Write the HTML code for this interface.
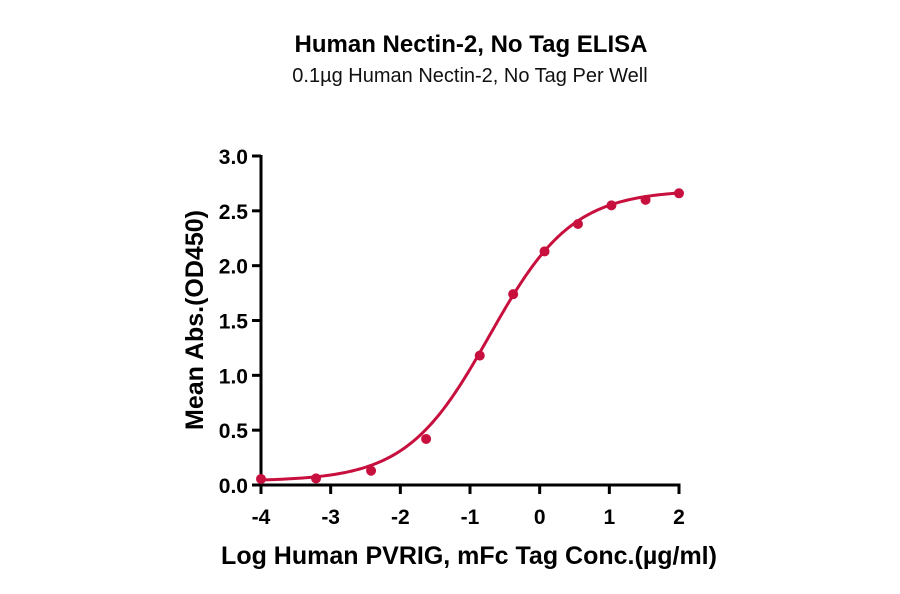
<!DOCTYPE html>
<html><head><meta charset="utf-8"><style>
html,body{margin:0;padding:0;background:#fff;}
svg{display:block;font-family:"Liberation Sans","DejaVu Sans",sans-serif;}
</style></head><body>
<svg id="chart" width="900" height="594" viewBox="0 0 900 594">
<text x="471" y="52" text-anchor="middle" font-size="24" font-weight="bold" fill="#000">Human Nectin-2, No Tag ELISA</text>
<text x="470" y="82" text-anchor="middle" font-size="20" fill="#111">0.1µg Human Nectin-2, No Tag Per Well</text>
<g id="axes"></g>
<g id="marks"></g>
<text x="469" y="564" text-anchor="middle" font-size="25" font-weight="bold" fill="#000">Log Human PVRIG, mFc Tag Conc.(µg/ml)</text>
<text transform="translate(203,320) rotate(-90)" text-anchor="middle" font-size="25" font-weight="bold" fill="#000">Mean Abs.(OD450)</text>
</svg>
<script>
const xValues=[-4,-3.21,-2.42,-1.63,-0.86,-0.38,0.07,0.55,1.03,1.52,2.0];
const yValues=[0.055,0.06,0.13,0.42,1.18,1.74,2.13,2.38,2.55,2.60,2.66];
const xTicks=[-4,-3,-2,-1,0,1,2];
const yTicks=[0,0.5,1.0,1.5,2.0,2.5,3.0];
const fitBottom=0.035, fitTop=2.69, fitLogEC50=-0.72, fitHill=0.73;

const X0=261,X1=679,Y0=485,Y1=156;
const xs=v=>X0+(v-(-4))/6*(X1-X0);
const ys=v=>Y0-v/3*(Y0-Y1);
const NS="http://www.w3.org/2000/svg";
const axes=document.getElementById('axes'), marks=document.getElementById('marks');
function mk(tag,attrs,parent){const e=document.createElementNS(NS,tag);for(const k in attrs)e.setAttribute(k,attrs[k]);parent.appendChild(e);return e;}

let e=mk('line',{x1:X0,y1:Y1-1,x2:X0,y2:Y0+1.5,stroke:'#000','stroke-width':3},axes);


e=mk('line',{x1:X0-1.5,y1:Y0,x2:X1+1.5,y2:Y0,stroke:'#000','stroke-width':3},axes);


xTicks.forEach(t=>{
  let l=mk('line',{x1:xs(t),y1:Y0,x2:xs(t),y2:Y0+9,stroke:'#000','stroke-width':3},axes);
  
  
  let tx=mk('text',{x:xs(t),y:Y0+39,'text-anchor':'middle','font-size':21,'font-weight':'bold',fill:'#000'},axes);
  tx.textContent=String(t);
  
  
});
yTicks.forEach(t=>{
  let l=mk('line',{x1:X0-9,y1:ys(t),x2:X0,y2:ys(t),stroke:'#000','stroke-width':3},axes);
  
  
  let tx=mk('text',{x:X0-13,y:ys(t)+8,'text-anchor':'end','font-size':21,'font-weight':'bold',fill:'#000'},axes);
  tx.textContent=t.toFixed(1);
  
  
});
let d='';
for(let i=0;i<=200;i++){const x=-4+6*i/200;const y=fitBottom+(fitTop-fitBottom)/(1+Math.pow(10,(fitLogEC50-x)*fitHill));d+=(i?'L':'M')+xs(x).toFixed(2)+','+ys(y).toFixed(2);}
e=mk('path',{d:d,fill:'none',stroke:'#c8103e','stroke-width':3},marks);


xValues.forEach((x,i)=>{
  let c=mk('circle',{cx:xs(x),cy:ys(yValues[i]),r:5,fill:'#c8103e'},marks);
  
  
});
</script>
</body></html>
